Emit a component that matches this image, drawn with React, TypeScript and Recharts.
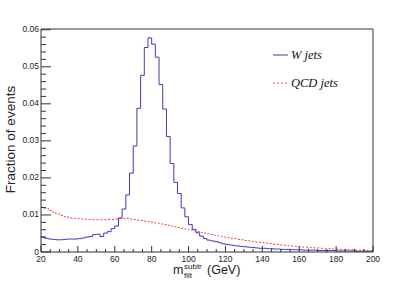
import React from 'react';
import { LineChart, Line, XAxis, YAxis, ReferenceLine } from 'recharts';

// Bin low edges (GeV), 2 GeV bins from 20 to 200
const BIN_LOW_EDGES = [
  20, 22, 24, 26, 28, 30, 32, 34, 36, 38,
  40, 42, 44, 46, 48, 50, 52, 54, 56, 58,
  60, 62, 64, 66, 68, 70, 72, 74, 76, 78,
  80, 82, 84, 86, 88, 90, 92, 94, 96, 98,
  100, 102, 104, 106, 108, 110, 112, 114, 116, 118,
  120, 122, 124, 126, 128, 130, 132, 134, 136, 138,
  140, 142, 144, 146, 148, 150, 152, 154, 156, 158,
  160, 162, 164, 166, 168, 170, 172, 174, 176, 178,
  180, 182, 184, 186, 188, 190, 192, 194, 196, 198,
];
const X_MAX = 200;

const W_JETS = [
  0.0041, 0.0037, 0.0035, 0.0034, 0.0033, 0.0033, 0.0034, 0.0035, 0.0035, 0.0035,
  0.0036, 0.0038, 0.0040, 0.0042, 0.0047, 0.0048, 0.0042, 0.0051, 0.0055, 0.0063,
  0.0070, 0.0092, 0.0116, 0.0154, 0.0213, 0.0286, 0.0388, 0.0477, 0.0552, 0.0578,
  0.0561, 0.0526, 0.0452, 0.0386, 0.0312, 0.0239, 0.0188, 0.0158, 0.0119, 0.0095,
  0.0074, 0.0061, 0.0052, 0.0043, 0.0036, 0.0032, 0.0030, 0.0028, 0.0025, 0.0022,
  0.0020, 0.0019, 0.0017, 0.0016, 0.0015, 0.0014, 0.0013, 0.0012, 0.0011, 0.0010,
  0.0010, 0.0009, 0.0009, 0.0008, 0.0008, 0.0007, 0.0007, 0.0007, 0.0006, 0.0006,
  0.0006, 0.0005, 0.0005, 0.0005, 0.0005, 0.0004, 0.0004, 0.0004, 0.0004, 0.0004,
  0.0003, 0.0003, 0.0003, 0.0003, 0.0003, 0.0002, 0.0002, 0.0002, 0.0002, 0.0002,
];

const QCD_JETS = [
  0.0121, 0.0117, 0.0112, 0.0108, 0.0103, 0.0099, 0.0096, 0.0094, 0.0092, 0.0091,
  0.0090, 0.0089, 0.0088, 0.0088, 0.0087, 0.0087, 0.0087, 0.0087, 0.0088, 0.0088,
  0.0089, 0.0090, 0.0090, 0.0091, 0.0089, 0.0088, 0.0086, 0.0085, 0.0083, 0.0082,
  0.0080, 0.0078, 0.0076, 0.0074, 0.0072, 0.0070, 0.0068, 0.0066, 0.0064, 0.0062,
  0.0059, 0.0057, 0.0055, 0.0053, 0.0051, 0.0049, 0.0047, 0.0045, 0.0043, 0.0041,
  0.0039, 0.0037, 0.0036, 0.0034, 0.0033, 0.0031, 0.0030, 0.0028, 0.0027, 0.0026,
  0.0025, 0.0024, 0.0023, 0.0021, 0.0020, 0.0019, 0.0018, 0.0017, 0.0016, 0.0015,
  0.0014, 0.0013, 0.0013, 0.0012, 0.0011, 0.0011, 0.0010, 0.0009, 0.0009, 0.0008,
  0.0008, 0.0007, 0.0007, 0.0006, 0.0006, 0.0005, 0.0005, 0.0005, 0.0004, 0.0004,
];

const X_MAJOR_TICKS = [20, 40, 60, 80, 100, 120, 140, 160, 180, 200];
const X_MINOR_TICKS = [
  25, 30, 35, 45, 50, 55, 65, 70, 75, 85, 90, 95, 105, 110, 115,
  125, 130, 135, 145, 150, 155, 165, 170, 175, 185, 190, 195,
];
const Y_MAJOR_TICKS = [0, 0.01, 0.02, 0.03, 0.04, 0.05, 0.06];
const Y_TICK_LABELS = ['0', '0.01', '0.02', '0.03', '0.04', '0.05', '0.06'];
const Y_MINOR_TICKS = [
  0.002, 0.004, 0.006, 0.008, 0.012, 0.014, 0.016, 0.018,
  0.022, 0.024, 0.026, 0.028, 0.032, 0.034, 0.036, 0.038,
  0.042, 0.044, 0.046, 0.048, 0.052, 0.054, 0.056, 0.058,
];
const Y_MAX = 0.0602;

const SERIES_NAMES = ['W jets', 'QCD jets'];
const X_TITLE_MAIN = 'm';
const X_TITLE_SUP = 'subtr';
const X_TITLE_SUB = 'filt';
const X_TITLE_UNIT = '(GeV)';
const Y_TITLE = 'Fraction of events';

const W_COLOR = '#3c3cb8';
const QCD_COLOR = '#ff3838';
const AXIS_COLOR = '#333333';
const SANS = '"Liberation Sans", Arial, Helvetica, sans-serif';
const SERIF = '"Liberation Serif", "Times New Roman", serif';

const data = [
  ...BIN_LOW_EDGES.map((x, i) => ({ x, w: W_JETS[i], qcd: QCD_JETS[i] })),
  { x: X_MAX, w: W_JETS[W_JETS.length - 1], qcd: QCD_JETS[QCD_JETS.length - 1] },
];

const X_ALL_TICKS = [...X_MAJOR_TICKS, ...X_MINOR_TICKS].sort((a, b) => a - b);
const Y_ALL_TICKS = [...Y_MAJOR_TICKS, ...Y_MINOR_TICKS].sort((a, b) => a - b);

const XTick = (props: any) => {
  const { x, y, payload } = props;
  const v = payload.value;
  const major = X_MAJOR_TICKS.includes(v);
  return (
    <g>
      <line x1={x} x2={x} y1={y} y2={y - (major ? 6 : 3)} stroke={AXIS_COLOR} strokeWidth={1} />
      {major && (
        <text x={x} y={y + 9.5} textAnchor="middle" fontFamily={SANS} fontSize={8.5} fill="#222">
          {String(v)}
        </text>
      )}
    </g>
  );
};

const YTick = (props: any) => {
  const { x, y, payload } = props;
  const v = payload.value;
  const idx = Y_MAJOR_TICKS.findIndex((t) => Math.abs(t - v) < 1e-9);
  const major = idx >= 0;
  return (
    <g>
      <line x1={x} x2={x + (major ? 10 : 5)} y1={y} y2={y} stroke={AXIS_COLOR} strokeWidth={1} />
      {major && (
        <text x={x - 2} y={y + 2.5} textAnchor="end" fontFamily={SANS} fontSize={8.5} fill="#222">
          {Y_TICK_LABELS[idx]}
        </text>
      )}
    </g>
  );
};

export default function App() {
  return (
    <div style={{ position: 'absolute', left: 0, top: 0, width: 415, height: 281, background: '#fff' }}>
      <LineChart width={415} height={281} data={data} margin={{ top: 29, right: 42, bottom: 0, left: 0 }}>
        <XAxis
          type="number"
          dataKey="x"
          domain={[20, X_MAX]}
          ticks={X_ALL_TICKS}
          interval={0}
          height={29}
          tickSize={0}
          tickMargin={0}
          tickLine={false}
          tick={<XTick />}
          axisLine={{ stroke: AXIS_COLOR }}
          allowDataOverflow
        />
        <YAxis
          type="number"
          domain={[0, Y_MAX]}
          ticks={Y_ALL_TICKS}
          interval={0}
          width={41}
          tickSize={0}
          tickMargin={0}
          tickLine={false}
          tick={<YTick />}
          axisLine={{ stroke: AXIS_COLOR }}
          allowDataOverflow
        />
        <ReferenceLine y={Y_MAX} stroke={AXIS_COLOR} ifOverflow="visible" />
        <ReferenceLine x={X_MAX} stroke={AXIS_COLOR} ifOverflow="visible" />
        <Line
          type="stepAfter"
          dataKey="qcd"
          stroke={QCD_COLOR}
          strokeWidth={1}
          strokeDasharray="2 2"
          dot={false}
          isAnimationActive={false}
        />
        <Line
          type="stepAfter"
          dataKey="w"
          stroke={W_COLOR}
          strokeWidth={1}
          dot={false}
          isAnimationActive={false}
        />
      </LineChart>
      <svg
        width={415}
        height={281}
        style={{ position: 'absolute', left: 0, top: 0, pointerEvents: 'none' }}
      >
        <text
          transform="translate(15,139.5) rotate(-90)"
          textAnchor="middle"
          fontFamily={SANS}
          fontSize={13.5}
          fill="#222"
        >
          {Y_TITLE}
        </text>
        <text x={173} y={274} fontFamily={SANS} fontSize={12.5} fill="#222">{X_TITLE_MAIN}</text>
        <text x={184} y={268.5} fontFamily={SANS} fontSize={8} fill="#222">{X_TITLE_SUP}</text>
        <text x={184} y={277.5} fontFamily={SANS} fontSize={8} fill="#222">{X_TITLE_SUB}</text>
        <text x={207} y={274} fontFamily={SANS} fontSize={12.5} fill="#222">{X_TITLE_UNIT}</text>
        <line x1={273} x2={288} y1={55} y2={55} stroke={W_COLOR} strokeWidth={1} />
        <text x={291} y={59} fontFamily={SERIF} fontStyle="italic" fontSize={12.5} fill="#111">{SERIES_NAMES[0]}</text>
        <line x1={273} x2={289} y1={83} y2={83} stroke={QCD_COLOR} strokeWidth={1} strokeDasharray="2 2" />
        <text x={291} y={87} fontFamily={SERIF} fontStyle="italic" fontSize={12.5} fill="#111">{SERIES_NAMES[1]}</text>
      </svg>
    </div>
  );
}
